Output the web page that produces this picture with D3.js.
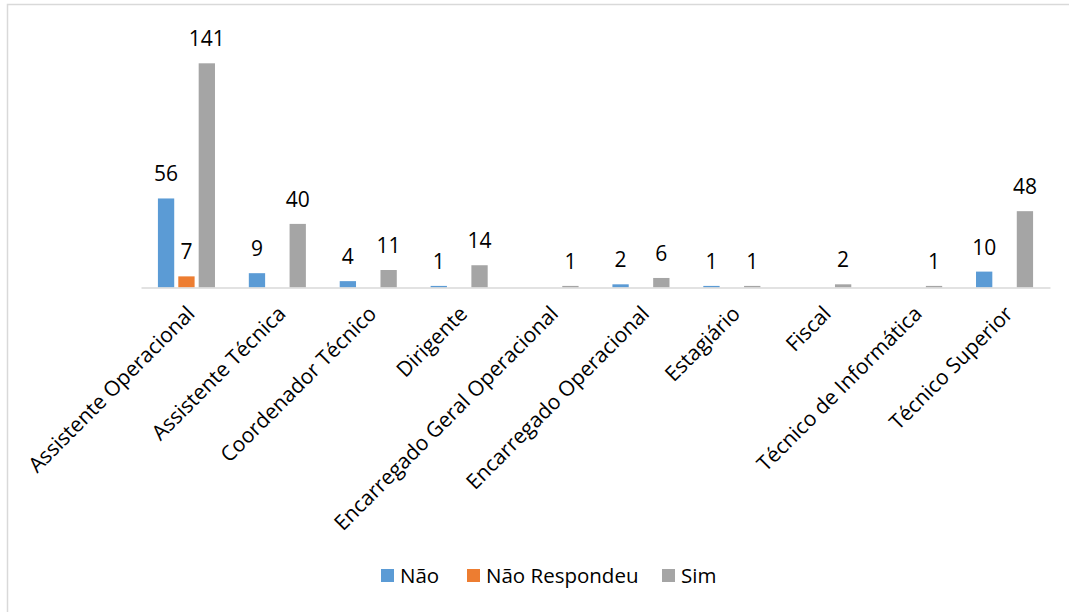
<!DOCTYPE html>
<html>
<head>
<meta charset="utf-8">
<script src="https://cdn.jsdelivr.net/npm/d3@7"></script>
<style>
  body { margin: 0; background: #fff; }
  text { font-family: "Open Sans", sans-serif; fill: #000; }
</style>
</head>
<body>
<svg id="chart" width="1069" height="612"></svg>
<script>
const categories = [
  "Assistente Operacional",
  "Assistente Técnica",
  "Coordenador Técnico",
  "Dirigente",
  "Encarregado Geral Operacional",
  "Encarregado Operacional",
  "Estagiário",
  "Fiscal",
  "Técnico de Informática",
  "Técnico Superior",
];
const seriesNames = ["Não", "Não Respondeu", "Sim"];
const nao = [56, 9, 4, 1, null, 2, 1, null, null, 10];
const naoRespondeu = [7, null, null, null, null, null, null, null, null, null];
const sim = [141, 40, 11, 14, 1, 6, 1, 2, 1, 48];
const colors = ["#5B9BD5", "#ED7D31", "#A5A5A5"];

const svg = d3.select("svg#chart");

// chart border (only top and left show in the frame)
svg.append("path")
  .attr("d", "M7.5,612 V4.5 H1069")
  .attr("fill", "none")
  .attr("stroke", "#d9d9d9")
  .attr("stroke-width", 1.5);

const x0 = d3.scaleBand().domain(categories).range([141, 1050]);
const x1 = d3.scaleBand().domain(seriesNames)
  .range([0, x0.bandwidth()])
  .paddingInner(0.2)
  .paddingOuter(0.83);
const y = d3.scaleLinear().domain([0, 160]).range([287.5, 33.1]);

const allSeries = [nao, naoRespondeu, sim];
const rows = [];
allSeries.forEach((vals, si) => {
  vals.forEach((v, ci) => {
    if (v != null) rows.push({ cat: categories[ci], s: seriesNames[si], v: v, color: colors[si] });
  });
});

svg.selectAll("rect.bar")
  .data(rows)
  .enter()
  .append("rect")
  .attr("class", "bar")
  .attr("x", d => x0(d.cat) + x1(d.s))
  .attr("y", d => y(d.v))
  .attr("width", x1.bandwidth())
  .attr("height", d => y(0) - y(d.v))
  .attr("fill", d => d.color);

svg.selectAll("text.val")
  .data(rows)
  .enter()
  .append("text")
  .attr("class", "val")
  .attr("x", d => x0(d.cat) + x1(d.s) + x1.bandwidth() / 2)
  .attr("y", d => y(d.v) - 17)
  .attr("text-anchor", "middle")
  .style("font-size", "21px")
  .text(d => d.v);

// category axis
const xAxis = svg.append("g")
  .attr("transform", "translate(0," + y(0) + ")")
  .call(d3.axisBottom(x0).tickSize(0).tickPadding(0));
xAxis.select(".domain").attr("stroke", "#d9d9d9").attr("stroke-width", 1.5);
xAxis.selectAll(".tick text")
  .attr("text-anchor", "end")
  .attr("transform", "translate(-1,17) rotate(-45)")
  .attr("dy", "0.71em")
  .style("font-family", "'Open Sans', sans-serif")
  .style("font-size", "21px")
  .attr("fill", "#000");

// legend
const legendX = [381, 467, 662];
const legend = svg.selectAll("g.leg")
  .data(seriesNames)
  .enter()
  .append("g")
  .attr("class", "leg")
  .attr("transform", (d, i) => "translate(" + legendX[i] + ",569)");
legend.append("rect")
  .attr("width", 13)
  .attr("height", 13)
  .attr("fill", (d, i) => colors[i]);
legend.append("text")
  .attr("x", 19)
  .attr("y", 13.5)
  .style("font-size", "20.5px")
  .text(d => d);
</script>
</body>
</html>
